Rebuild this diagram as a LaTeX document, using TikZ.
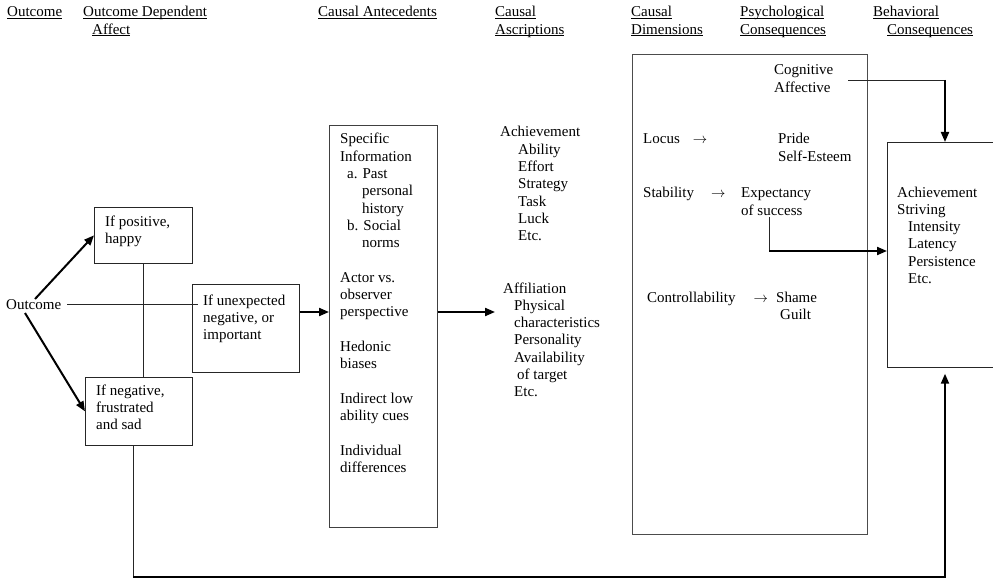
\documentclass[tikz,border=0pt]{standalone}
\usepackage{fontspec}
\setmainfont{Liberation Serif}
\usetikzlibrary{arrows.meta,calc}
% column heading with a flat underline just below the baseline
\newcommand\hdrline[1]{\setbox0\hbox{#1}\rlap{\rule[-1.8pt]{\wd0}{0.7pt}}\box0}
% left-aligned block of lines, baseline on its first line
\newcommand\txtblock[1]{\begin{tabular}[t]{@{}l@{}}#1\end{tabular}}
\begin{document}
\begin{tikzpicture}[x=1pt,y=-1pt,
  txt/.style={inner sep=0pt, anchor=base west, font=\fontsize{15}{17.3}\selectfont},
  box/.style={draw=black!85, line width=0.7pt, inner sep=0pt, anchor=north west},
  thinline/.style={draw=black!85, line width=0.7pt},
  heavy/.style={draw=black, line width=2pt},
  tip/.style={-{Triangle[length=10pt,width=8pt]}}]
\useasboundingbox (0,0) rectangle (993,580);

% column headings
\node[txt] (h1) at (7,17) {\hdrline{Outcome}};
\node[txt] (h2) at (83,17) {\txtblock{\hdrline{Outcome Dependent}\\\hspace*{9pt}\hdrline{Affect}}};
\node[txt] (h3) at (318,17) {\hdrline{Causal Antecedents}};
\node[txt] (h4) at (495,17) {\txtblock{\hdrline{Causal}\\\hdrline{Ascriptions}}};
\node[txt] (h5) at (631,17) {\txtblock{\hdrline{Causal}\\\hdrline{Dimensions}}};
\node[txt] (h6) at (740,17) {\txtblock{\hdrline{Psychological}\\\hdrline{Consequences}}};
\node[txt] (h7) at (873,17) {\txtblock{\hdrline{Behavioral}\\\hspace*{14pt}\hdrline{Consequences}}};

% outcome and dependent affect
\node[txt] (outcome) at (6,309) {Outcome};
\node[box, minimum width=98, minimum height=56] (pos) at (94,207) {};
\node[txt] (posT) at (105,226) {\txtblock{If positive,\\happy}};
\node[box, minimum width=107, minimum height=68] (neg) at (85,377) {};
\node[txt] (negT) at (96,395) {\txtblock{If negative,\\frustrated\\and sad}};
\node[box, minimum width=107, minimum height=88] (unexp) at (192,284) {};
\node[txt] (unexpT) at (203,305) {\txtblock{If unexpected\\negative, or\\important}};

% causal antecedents
\node[box, draw=black!75, minimum width=108, minimum height=402] (ant) at (329,125) {};
\node[txt] (antT) at (340,144) {\txtblock{Specific\\Information\\\hspace*{7pt}a. Past\\\hspace*{22pt}personal\\\hspace*{22pt}history\\\hspace*{7pt}b. Social\\\hspace*{22pt}norms\\ \\Actor vs.\\observer\\perspective\\ \\Hedonic\\biases\\ \\Indirect low\\ability cues\\ \\Individual\\differences}};

% causal ascriptions
\node[txt] (ach) at (500,137) {\txtblock{Achievement\\\hspace*{18pt}Ability\\\hspace*{18pt}Effort\\\hspace*{18pt}Strategy\\\hspace*{18pt}Task\\\hspace*{18pt}Luck\\\hspace*{18pt}Etc.}};
\node[txt] (aff) at (503,293) {\txtblock{Affiliation\\\hspace*{11pt}Physical\\\hspace*{11pt}characteristics\\\hspace*{11pt}Personality\\\hspace*{11pt}Availability\\\hspace*{14pt}of target\\\hspace*{11pt}Etc.}};

% causal dimensions and psychological consequences
\node[box, draw=black!70, minimum width=235, minimum height=480] (dims) at (632,54) {};
\node[txt] (cog) at (774,75) {\txtblock{Cognitive\\Affective}};
\node[txt] (locus) at (643,144) {Locus\hspace{13pt}$\rightarrow$};
\node[txt] (pride) at (778,144) {\txtblock{Pride\\Self-Esteem}};
\node[txt] (stab) at (643,198) {Stability\hspace{17pt}$\rightarrow$};
\node[txt] (expect) at (741,198) {\txtblock{Expectancy\\of success}};
\node[txt] (contr) at (647,302) {Controllability\hspace{18pt}$\rightarrow$};
\node[txt] (shame) at (776,302) {\txtblock{Shame\\\hspace*{4pt}Guilt}};

% behavioral consequences (box runs off the right edge)
\node[box, draw=none, minimum width=106, minimum height=225] (strive) at (887,142) {};
\draw[thinline] (strive.north east) -- (strive.north west) -- (strive.south west) -- (strive.south east);
\node[txt] (striveT) at (897,197) {\txtblock{Achievement\\Striving\\\hspace*{11pt}Intensity\\\hspace*{11pt}Latency\\\hspace*{11pt}Persistence\\\hspace*{11pt}Etc.}};

% connectors
\coordinate (o1) at (35,299);
\coordinate (o2) at (25,313);
\draw[heavy,tip] (o1) -- (pos.west);
\draw[heavy,tip] (o2) -- (neg.west);
\draw[thinline] (pos.south) -- (pos.south |- neg.north);
\draw[thinline] ([xshift=6pt]outcome.east) -- ([xshift=6pt]outcome.east -| unexp.west);

\coordinate (ua) at ($(unexp.north east)+(0,28)$);
\draw[heavy,tip] (ua) -- (ua -| ant.west);
\coordinate (aa) at ($(ant.north east)+(0,187)$);
\coordinate (ascr) at (495,312);
\draw[heavy,tip] (aa) -- (ascr);

\coordinate (c1) at (848,80);
\coordinate (c2) at (945,80);
\draw[thinline] (c1) -- (c2);
\draw[heavy,tip] (c2) -- (c2 |- strive.north);

\coordinate (e1) at (769,217);
\coordinate (e2) at (769,251);
\draw[thinline] (e1) -- (e2);
\draw[heavy,tip] (e2) -- (e2 -| strive.west);

\coordinate (b1) at (133,577);
\coordinate (b2) at (945,577);
\draw[thinline] (neg.south -| b1) -- (b1);
\draw[heavy,tip] (b1) -- (b2) -- ($(strive.south -| b2)+(0,6)$);
\end{tikzpicture}
\end{document}
